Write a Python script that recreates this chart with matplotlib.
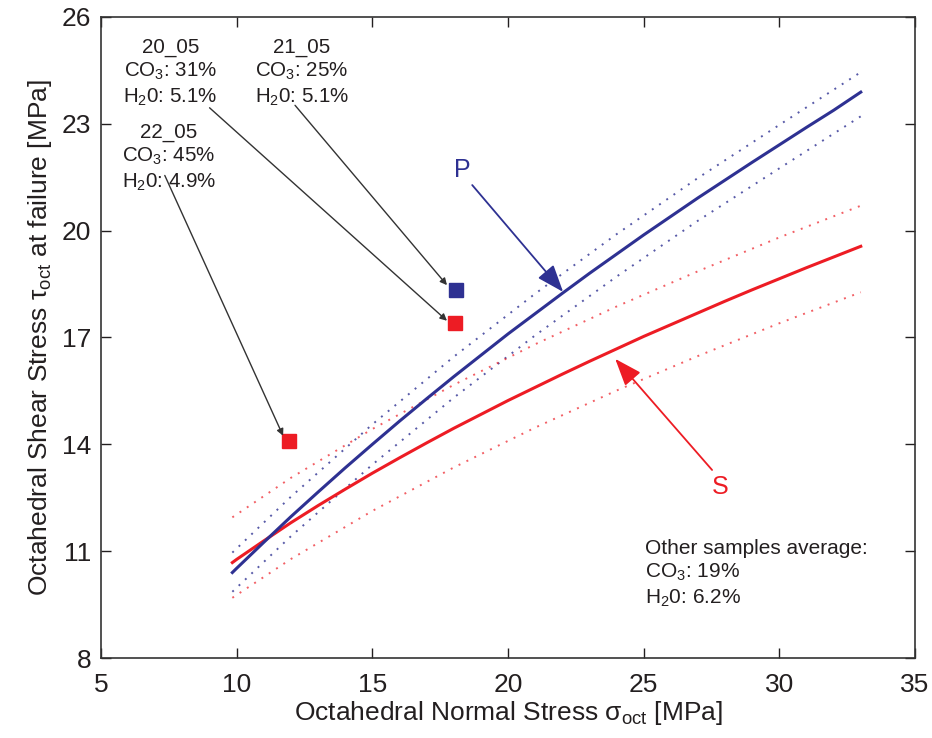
import matplotlib
matplotlib.use("Agg")
import matplotlib.pyplot as plt

plt.rcParams['font.family'] = ['Liberation Sans', 'DejaVu Sans']
plt.rcParams['mathtext.fontset'] = 'custom'
plt.rcParams['mathtext.rm'] = 'Liberation Sans'
plt.rcParams['mathtext.it'] = 'Liberation Sans:italic'
plt.rcParams['mathtext.bf'] = 'Liberation Sans:bold'

# ---- data ----
sigma = [9.84, 10, 11, 12, 13, 14, 15, 16, 17, 18, 19, 20, 21, 22, 23, 24,
         25, 26, 27, 28, 29, 30, 31, 32, 33]
p_fit = [10.40, 10.52, 11.25, 11.97, 12.66, 13.34, 14.00, 14.65, 15.28, 15.90,
         16.50, 17.10, 17.67, 18.24, 18.80, 19.34, 19.88, 20.40, 20.92, 21.42,
         21.92, 22.41, 22.90, 23.38, 23.89]
s_fit = [10.68, 10.77, 11.29, 11.80, 12.28, 12.74, 13.19, 13.62, 14.04, 14.45,
         14.84, 15.23, 15.60, 15.97, 16.33, 16.68, 17.03, 17.36, 17.69, 18.02,
         18.34, 18.65, 18.96, 19.26, 19.56]

sigma_band = [9.84, 12, 15, 18, 21, 24, 27, 30, 33]
p_upper = [10.96, 12.53, 14.56, 16.46, 18.23, 19.90, 21.48, 22.97, 24.45]
p_lower = [9.86, 11.42, 13.43, 15.31, 17.06, 18.71, 20.28, 21.75, 23.21]
s_upper = [11.95, 13.06, 14.43, 15.67, 16.81, 17.87, 18.86, 19.81, 20.70]
s_lower = [9.69, 10.78, 12.13, 13.35, 14.47, 15.51, 16.48, 17.40, 18.27]

samples = ['20_05', '21_05', '22_05']
sample_sigma = [18.05, 18.08, 11.93]
sample_tau = [17.41, 18.33, 14.09]
sample_colors = ['#ED1C24', '#2E3192', '#ED1C24']
sample_text = ['20_05\nCO$_3$: 31%\nH$_2$0: 5.1%',
               '21_05\nCO$_3$: 25%\nH$_2$0: 5.1%',
               '22_05\nCO$_3$: 45%\nH$_2$0: 4.9%']
sample_text_pos = [(7.55, 24.43), (12.40, 24.43), (7.50, 22.04)]
sample_arrow_start = [(9.0, 23.45), (12.15, 23.52), (7.35, 21.55)]
sample_arrow_end = [(17.75, 17.47), (17.75, 18.47), (11.71, 14.24)]

other_text = 'Other samples average:\nCO$_3$: 19%\nH$_2$0: 6.2%'

xticks = [5, 10, 15, 20, 25, 30, 35]
yticks = [8, 11, 14, 17, 20, 23, 26]

BLUE = '#2E3192'
RED = '#ED1C24'
DARK = '#231F20'

fig = plt.figure(figsize=(9.32, 7.38), dpi=100)
ax = fig.add_axes([0.1084, 0.1084, 0.8734, 0.8686])

dot = (0, (1, 3.5))
ax.plot(sigma_band, p_upper, color=BLUE, lw=1.4, linestyle=dot, alpha=0.8)
ax.plot(sigma_band, p_lower, color=BLUE, lw=1.4, linestyle=dot, alpha=0.8)
ax.plot(sigma_band, s_upper, color=RED, lw=1.4, linestyle=dot, alpha=0.7)
ax.plot(sigma_band, s_lower, color=RED, lw=1.4, linestyle=dot, alpha=0.7)
ax.plot(sigma, s_fit, color=RED, lw=2.2)
ax.plot(sigma, p_fit, color=BLUE, lw=2.2)

for sx, sy, c in zip(sample_sigma, sample_tau, sample_colors):
    ax.plot(sx, sy, marker='s', ms=9.5, color=c, mec=c, linestyle='none')

for txt, pos, a0, a1 in zip(sample_text, sample_text_pos, sample_arrow_start, sample_arrow_end):
    ax.text(pos[0], pos[1], txt, ha='center', va='center', multialignment='center',
            fontsize=14.8, color=DARK, linespacing=1.28)
    ax.annotate('', xy=a1, xytext=a0,
                arrowprops=dict(arrowstyle='-|>', color='#333333', lw=1.0,
                                mutation_scale=10, shrinkA=0, shrinkB=0))

ax.text(25.05, 10.36, other_text, ha='left', va='center', fontsize=15,
        color=DARK, linespacing=1.28)

ax.text(18.31, 21.70, 'P', color=BLUE, fontsize=18, ha='center', va='center')
ax.annotate('', xy=(22.03, 18.28), xytext=(18.68, 21.28),
            arrowprops=dict(arrowstyle='-|>,head_length=1.2,head_width=0.45',
                            color=BLUE, lw=1.3, mutation_scale=14,
                            shrinkA=0, shrinkB=0))
ax.text(27.82, 12.80, 'S', color=RED, fontsize=18, ha='center', va='center')
ax.annotate('', xy=(23.95, 16.40), xytext=(27.52, 13.28),
            arrowprops=dict(arrowstyle='-|>,head_length=1.2,head_width=0.45',
                            color=RED, lw=1.3, mutation_scale=14,
                            shrinkA=0, shrinkB=0))

ax.set_xlim(5, 35)
ax.set_ylim(8, 26)
ax.set_xticks(xticks)
ax.set_yticks(yticks)
ax.tick_params(direction='in', length=7, width=1, top=True, right=True,
               labelsize=19, colors=DARK, pad=7)
ax.tick_params(axis='x', pad=11)
for sp in ax.spines.values():
    sp.set_color('#333333')
    sp.set_linewidth(1.2)

ax.set_xlabel(r'Octahedral Normal Stress σ$_{\mathrm{oct}}$ [MPa]', fontsize=19,
              color=DARK, labelpad=1)
ax.set_ylabel(r'Octahedral Shear Stress τ$_{\mathrm{oct}}$ at failure [MPa]', fontsize=19,
              color=DARK, labelpad=6)

fig.savefig('out.png', dpi=100)
